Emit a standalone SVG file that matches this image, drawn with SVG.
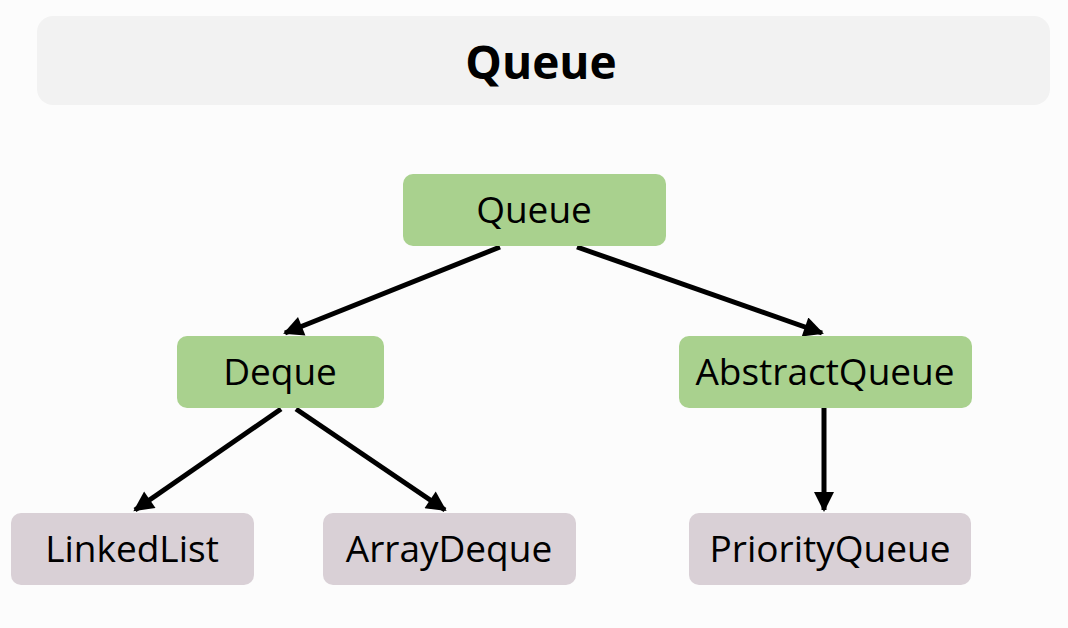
<svg xmlns="http://www.w3.org/2000/svg" width="1068" height="628" viewBox="0 0 1068 628">
<style>
.green{fill:#a9d18e}
.grey{fill:#d9d0d6}
.lbl{font-family:"Open Sans","Noto Sans",sans-serif;font-size:37px;fill:#000;text-anchor:middle}
.conn{stroke:#000;stroke-width:5;fill:none;marker-end:url(#ah)}
</style>
<defs>
<marker id="ah" viewBox="0 0 10 10" refX="9" refY="5" markerWidth="4.4" markerHeight="4" orient="auto" markerUnits="strokeWidth">
<path d="M0,0 L10,5 L0,10 z" fill="#000"/>
</marker>
</defs>
<rect width="1068" height="628" fill="#fcfcfc"/>
<g id="title">
<rect x="37" y="16" width="1013" height="89" rx="16" fill="#f2f2f2"/>
<text x="541" y="79" font-family="'Open Sans','Noto Sans',sans-serif" font-size="46" font-weight="bold" text-anchor="middle">Queue</text>
</g>
<g id="connectors">
<line class="conn" x1="500" y1="247" x2="285" y2="333"/>
<line class="conn" x1="577" y1="247" x2="822" y2="333"/>
<line class="conn" x1="281" y1="409" x2="135" y2="510"/>
<line class="conn" x1="296" y1="409" x2="445" y2="510"/>
<line class="conn" x1="824" y1="408" x2="824" y2="510"/>
</g>
<g id="queue"><rect class="green" x="403" y="174" width="263" height="72" rx="10"/><text class="lbl" x="534" y="223">Queue</text></g>
<g id="deque"><rect class="green" x="177" y="336" width="207" height="72" rx="10"/><text class="lbl" x="280" y="385">Deque</text></g>
<g id="abstractqueue"><rect class="green" x="679" y="336" width="293" height="72" rx="10"/><text class="lbl" x="825" y="385">AbstractQueue</text></g>
<g id="linkedlist"><rect class="grey" x="11" y="513" width="243" height="72" rx="10"/><text class="lbl" x="132" y="562">LinkedList</text></g>
<g id="arraydeque"><rect class="grey" x="323" y="513" width="253" height="72" rx="10"/><text class="lbl" x="449" y="562">ArrayDeque</text></g>
<g id="priorityqueue"><rect class="grey" x="689" y="513" width="282" height="72" rx="10"/><text class="lbl" x="830" y="562">PriorityQueue</text></g>
</svg>
